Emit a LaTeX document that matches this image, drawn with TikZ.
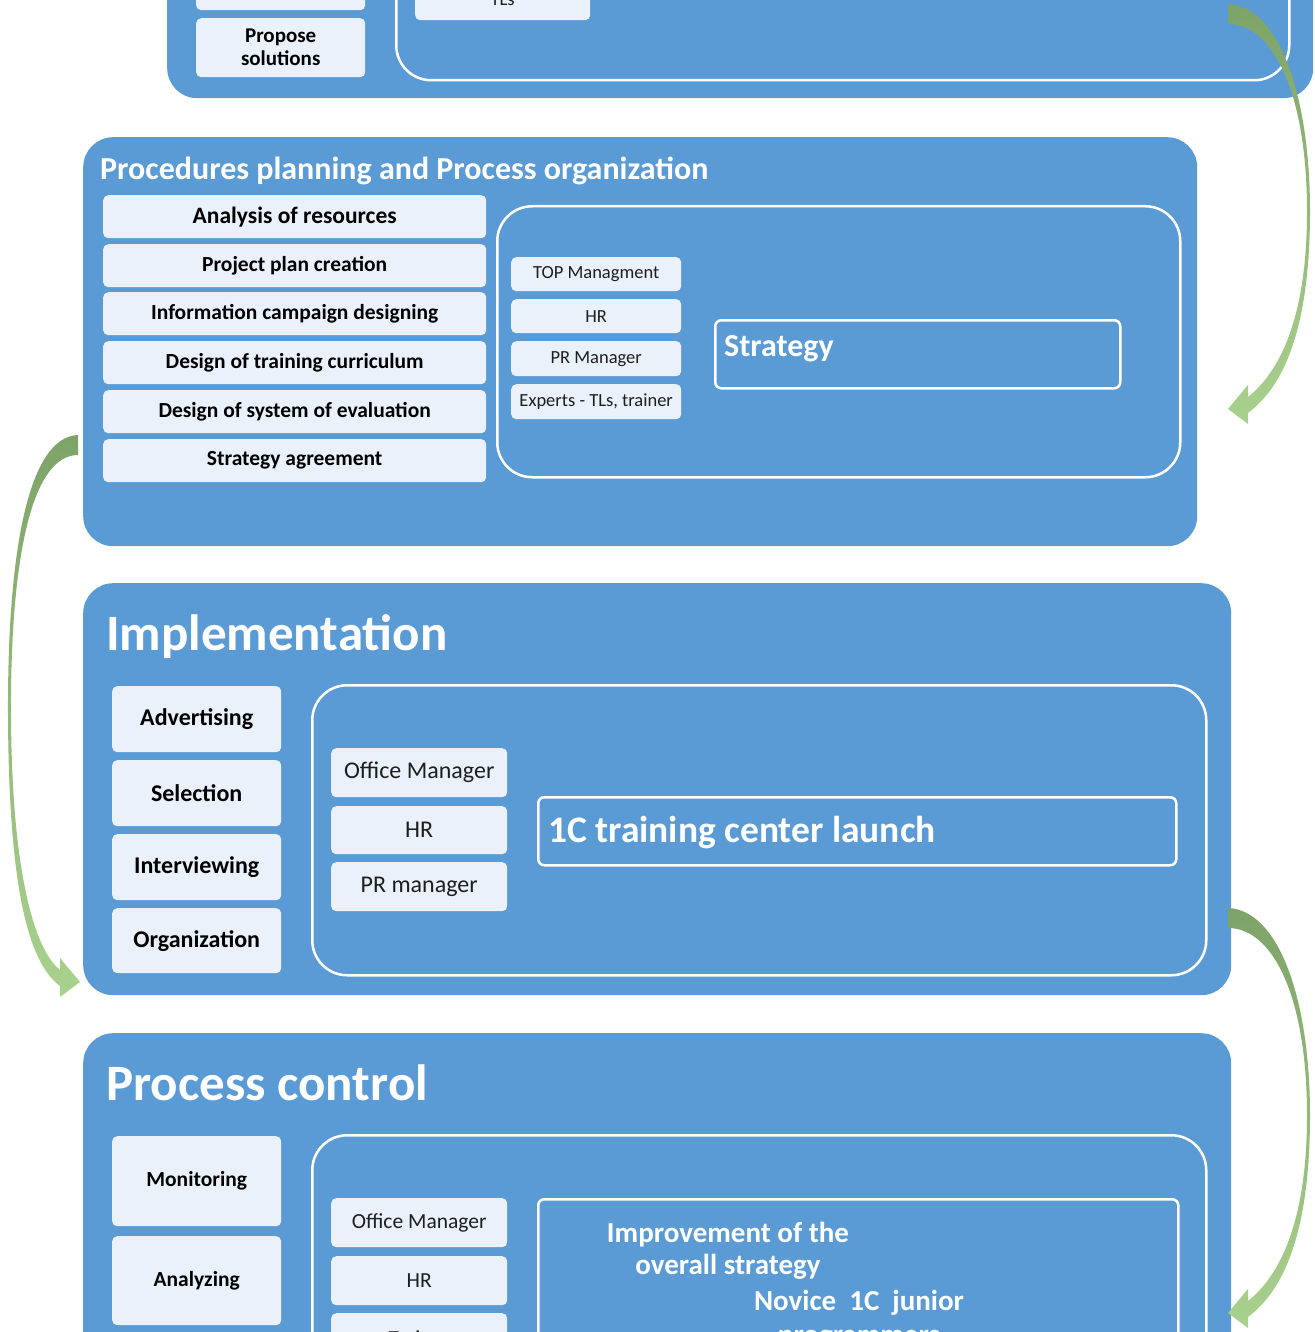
\documentclass[tikz,border=0pt]{standalone}
\usepackage{fontspec}
\setmainfont{Carlito}
\usetikzlibrary{calc}

\definecolor{panelblue}{RGB}{91,155,213}
\definecolor{tilefill}{RGB}{234,241,250}
\definecolor{arrowdark}{RGB}{126,163,104}
\definecolor{arrowlight}{RGB}{169,209,142}
\definecolor{inkgray}{RGB}{30,30,30}

% curved green arrow: start, tip, side (1 right / -1 left), bulge
\newcommand\bentarrow[4]{%
  \shade[top color=arrowdark, bottom color=arrowlight]
    ($(#1)+(0,-10)$)
    .. controls ($(#1)+({#3*50},-8)$) and ($(#1)!0.2!(#2)+({#3*#4},0)$) .. ($(#1)!0.5!(#2)+({#3*#4},0)$)
    .. controls ($(#1)!0.8!(#2)+({#3*#4},0)$) and ($(#2)+({#3*55},-22)$) .. ($(#2)+({#3*20},4)$)
    -- ($(#2)+({#3*20},15)$) -- (#2) -- ($(#2)+({#3*20},-24)$) -- ($(#2)+({#3*20},-12)$)
    .. controls ($(#2)+({#3*45},-32)$) and ($(#1)!0.8!(#2)+({#3*(#4-3)},0)$) .. ($(#1)!0.5!(#2)+({#3*(#4-3)},0)$)
    .. controls ($(#1)!0.2!(#2)+({#3*(#4-3)},0)$) and ($(#1)+({#3*45},10)$) .. ($(#1)+(0,10)$) -- cycle;}

\begin{document}
\begin{tikzpicture}[x=1pt,y=-1pt]
\tikzstyle{panel}=[fill=panelblue, rounded corners=30, anchor=north west, inner sep=0]
\tikzstyle{frame}=[draw=white, line width=2.5, rounded corners=35, anchor=north west, inner sep=0]
\tikzstyle{tile}=[fill=tilefill, rounded corners=5, anchor=north west, inner sep=0, text=black, align=center]
\tikzstyle{task}=[tile, font=\bfseries\fontsize{21.5}{24}\selectfont]
\tikzstyle{role}=[tile, text=inkgray, font=\fontsize{18.5}{22}\selectfont]
\tikzstyle{goal}=[draw=white, line width=2.5, rounded corners=6, anchor=north west, inner sep=0]
\tikzstyle{title}=[anchor=base west, inner sep=0, text=white, font=\bfseries]

\useasboundingbox (0,0) rectangle (1314,1332);
\clip (0,0) rectangle (1314,1332);

% stage 1 (cut off at the top)
\node[panel, minimum width=1146, minimum height=398] (p1) at (167,-300) {};
\node[frame, minimum width=893, minimum height=379] (f1) at (395,-300) {};
\node[task, minimum width=169, minimum height=60] (b10) at (196,-50) {};
\node[task, minimum width=169, minimum height=59, font=\bfseries\fontsize{21}{23}\selectfont] (b11) at (196,18) {Propose\\solutions};
\node[role, minimum width=175, minimum height=42] (r10) at (415,-22) {TLs};

% stage 2
\node[panel, minimum width=1114, minimum height=409] (p2) at (83,137) {};
\node[title, font=\bfseries\fontsize{32}{38}\selectfont] (t2) at (100,180) {Procedures planning and Process organization};
\node[task, minimum width=383, minimum height=43, font=\bfseries\fontsize{23.5}{28}\selectfont] (b21) at (103,195) {Analysis of resources};
\node[task, minimum width=383, minimum height=43] (b22) at (103,244) {Project plan creation};
\node[task, minimum width=383, minimum height=43] (b23) at (103,292) {Information campaign designing};
\node[task, minimum width=383, minimum height=43] (b24) at (103,341) {Design of training curriculum};
\node[task, minimum width=383, minimum height=43] (b25) at (103,390) {Design of system of evaluation};
\node[task, minimum width=383, minimum height=43] (b26) at (103,439) {Strategy agreement};
\node[frame, minimum width=683, minimum height=271] (f2) at (496,205) {};
\node[role, minimum width=170, minimum height=34] (r21) at (511,257) {TOP Managment};
\node[role, minimum width=170, minimum height=34] (r22) at (511,299) {HR};
\node[role, minimum width=170, minimum height=35] (r23) at (511,341) {PR Manager};
\node[role, minimum width=170, minimum height=35] (r24) at (511,384) {Experts - TLs, trainer};
\node[goal, minimum width=405, minimum height=68] (g2) at (714,319) {};
\node[title, font=\bfseries\fontsize{32}{38}\selectfont] (g2t) at (724,356) {Strategy};

% stage 3
\node[panel, minimum width=1148, minimum height=412] (p3) at (83,583) {};
\node[title, font=\bfseries\fontsize{51}{60}\selectfont] (t3) at (106,650) {Implementation};
\node[task, minimum width=169, minimum height=66, font=\bfseries\fontsize{24}{28}\selectfont] (b31) at (112,686) {Advertising};
\node[task, minimum width=169, minimum height=66, font=\bfseries\fontsize{24}{28}\selectfont] (b32) at (112,760) {Selection};
\node[task, minimum width=169, minimum height=66, font=\bfseries\fontsize{24}{28}\selectfont] (b33) at (112,834) {Interviewing};
\node[task, minimum width=169, minimum height=65, font=\bfseries\fontsize{24}{28}\selectfont] (b34) at (112,908) {Organization};
\node[frame, minimum width=894, minimum height=290] (f3) at (311,684) {};
\node[role, minimum width=176, minimum height=49, font=\fontsize{24}{28}\selectfont] (r31) at (331,748) {Office Manager};
\node[role, minimum width=176, minimum height=48, font=\fontsize{24}{28}\selectfont] (r32) at (331,806) {HR};
\node[role, minimum width=176, minimum height=49, font=\fontsize{24}{28}\selectfont] (r33) at (331,862) {PR manager};
\node[goal, minimum width=638, minimum height=68] (g3) at (537,796) {};
\node[title, font=\bfseries\fontsize{37.5}{44}\selectfont] (g3t) at (548,842) {1C training center launch};

% stage 4 (cut off at the bottom)
\node[panel, minimum width=1148, minimum height=467] (p4) at (83,1033) {};
\node[title, font=\bfseries\fontsize{51}{60}\selectfont] (t4) at (106,1100) {Process control};
\node[task, minimum width=169, minimum height=90, font=\bfseries\fontsize{21.5}{25}\selectfont] (b41) at (112,1136) {Monitoring};
\node[task, minimum width=169, minimum height=89, font=\bfseries\fontsize{21.5}{25}\selectfont] (b42) at (112,1236) {Analyzing};
\node[frame, minimum width=894, minimum height=330] (f4) at (311,1134) {};
\node[role, minimum width=176, minimum height=49, font=\fontsize{21.5}{25}\selectfont] (r41) at (331,1198) {Office Manager};
\node[role, minimum width=176, minimum height=49, font=\fontsize{21.5}{25}\selectfont] (r42) at (331,1256) {HR};
\node[role, minimum width=176, minimum height=49, font=\fontsize{21.5}{25}\selectfont] (r43) at (331,1313) {Trainer};
\node[goal, minimum width=640, minimum height=260] (g4) at (537,1198) {};
\node[align=center, text=white, font=\bfseries\fontsize{29}{32}\selectfont] (g4a) at (728,1251) {Improvement of the\\overall strategy};
\node[align=center, text=white, font=\bfseries\fontsize{29}{34}\selectfont] (g4b) at (859,1320) {Novice\ \ 1C\ \ junior\\programmers};

% arrows between stages
\coordinate (a1s) at (1228,14);
\coordinate (a1e) at (1228,409);
\coordinate (a2s) at (78,445);
\coordinate (a2e) at (80,982);
\coordinate (a3s) at (1228,918);
\coordinate (a3e) at (1228,1313);
\bentarrow{a1s}{a1e}{1}{82}
\bentarrow{a2s}{a2e}{-1}{71}
\bentarrow{a3s}{a3e}{1}{82}
\end{tikzpicture}
\end{document}
